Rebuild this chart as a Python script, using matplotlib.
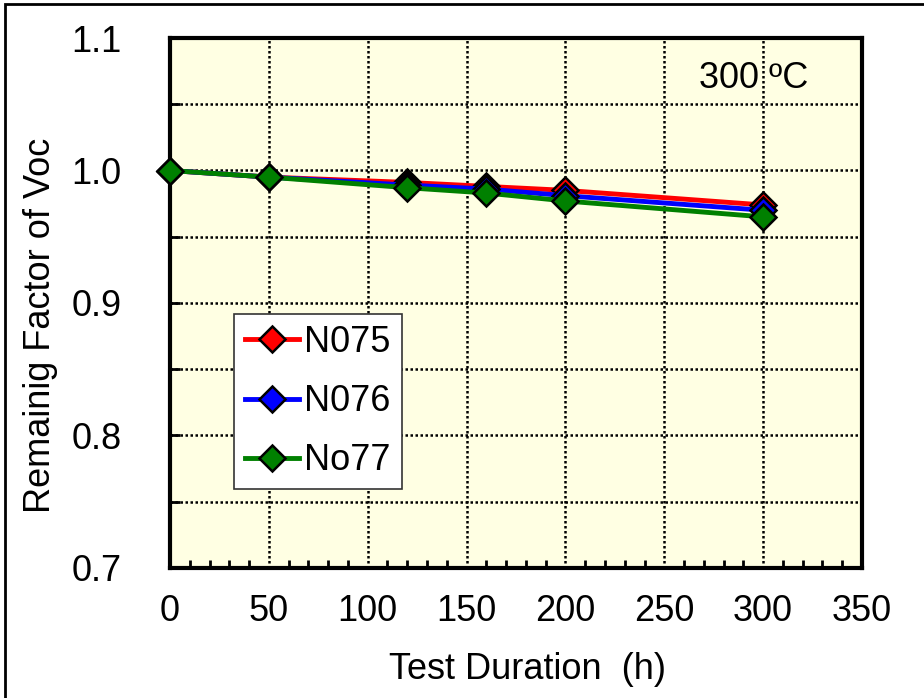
import numpy as np
import matplotlib.pyplot as plt
from matplotlib.patches import Rectangle
from matplotlib.ticker import MultipleLocator

plt.rcParams['font.family'] = ['Liberation Sans', 'DejaVu Sans']

# --- DATA ---
hours = [0, 50, 120, 160, 200, 300]
n075 = [1.000, 0.995, 0.991, 0.988, 0.985, 0.974]
n076 = [1.000, 0.995, 0.989, 0.986, 0.981, 0.970]
no77 = [1.000, 0.995, 0.987, 0.983, 0.977, 0.965]
series_names = ["N075", "N076", "No77"]
series_colors = ["#ff0000", "#0000ff", "#008000"]

fig = plt.figure(figsize=(9.24, 6.98), dpi=100)
ax = fig.add_axes([170 / 924, 1 - 568 / 698, 692 / 924, 530 / 698])
ax.set_facecolor("#ffffe3")

# --- outer frame of the picture ---
fig.patches.append(Rectangle((5 / 924, -0.1), 1.2, 1.1 - 4 / 698,
                             transform=fig.transFigure, fill=False,
                             edgecolor="black", linewidth=2))

for vals, name, col in zip([n075, n076, no77], series_names, series_colors):
    ax.plot(hours, vals, color=col, linewidth=3.5, marker="D", markersize=13,
            markerfacecolor=col, markeredgecolor="black", markeredgewidth=1.8,
            label=name, zorder=3, clip_on=False)

ax.set_xlim(0, 350)
ax.set_ylim(0.7, 1.1)
ax.xaxis.set_major_locator(MultipleLocator(50))
ax.xaxis.set_minor_locator(MultipleLocator(10))
ax.yaxis.set_major_locator(MultipleLocator(0.1))
ax.yaxis.set_minor_locator(MultipleLocator(0.05))
ax.yaxis.set_major_formatter(plt.FuncFormatter(lambda v, p: f"{v:.1f}"))

ax.tick_params(axis="both", which="both", direction="in", width=2, color="black")
ax.tick_params(axis="x", which="major", length=0, labelsize=26, pad=19)
ax.tick_params(axis="x", which="minor", length=6)
ax.tick_params(axis="y", which="major", length=7, labelsize=26, pad=35)
ax.tick_params(axis="y", which="minor", length=7)

for s in ax.spines.values():
    s.set_linewidth(3)

for gx in range(50, 350, 50):
    ax.axvline(gx, color="black", linestyle=(0, (1, 1)), linewidth=1.8, zorder=1)
for gy in np.arange(0.75, 1.09, 0.05):
    ax.axhline(gy, color="black", linestyle=(0, (1, 1)), linewidth=1.8, zorder=1)

ax.set_xlabel("Test Duration  (h)", fontsize=26)
ax.set_ylabel("Remainig Factor of Voc", fontsize=26)
ax.xaxis.set_label_coords(0.516, -0.158)
ax.yaxis.set_label_coords(-0.162, 0.458)

ax.text(0.922, 0.923, "300 ºC", transform=ax.transAxes, fontsize=26,
        ha="right", va="center")

leg = ax.legend(loc="upper left", bbox_to_anchor=(0.0925, 0.479),
                borderaxespad=0, fontsize=26, frameon=True, fancybox=False,
                handlelength=1.5, handletextpad=0.15, labelspacing=0.67,
                borderpad=0.3)
leg.get_frame().set_edgecolor("#333333")
leg.get_frame().set_linewidth(1.2)
leg.get_frame().set_alpha(1)
leg.set_zorder(5)

fig.savefig("out.png", dpi=100)
